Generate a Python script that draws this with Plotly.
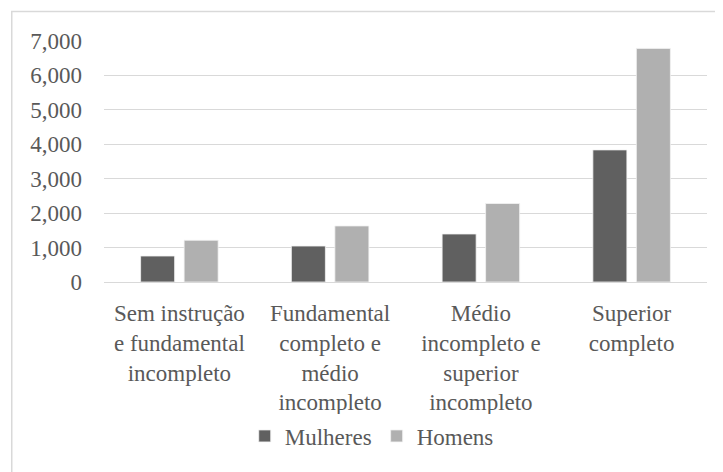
import plotly.graph_objects as go

categories = [
    "Sem instrução<br>e fundamental<br>incompleto",
    "Fundamental<br>completo e<br>médio<br>incompleto",
    "Médio<br>incompleto e<br>superior<br>incompleto",
    "Superior<br>completo",
]
mulheres = [755, 1045, 1395, 3837]
homens = [1212, 1628, 2280, 6785]
tick_vals = [0, 1000, 2000, 3000, 4000, 5000, 6000, 7000]
tick_text = ["0", "1,000", "2,000", "3,000", "4,000", "5,000", "6,000", "7,000"]

FONT = "Liberation Serif"
TXT = "#595959"

fig = go.Figure()
fig.add_trace(go.Bar(name="Mulheres", x=categories, y=mulheres,
                     marker=dict(color="#606060", line=dict(color="#f2f2f2", width=0.8))))
fig.add_trace(go.Bar(name="Homens", x=categories, y=homens,
                     marker=dict(color="#b0b0b0", line=dict(color="#f2f2f2", width=0.8))))

# page body adds an 8px offset, so the figure is sized to fill the rest of the window
fig.update_layout(
    width=715, height=464,
    margin=dict(l=96, r=16, t=33, b=190, autoexpand=False),
    paper_bgcolor="white", plot_bgcolor="white",
    barmode="group", bargap=0.423, bargroupgap=0.218,
    font=dict(family=FONT, size=23, color=TXT),
    showlegend=True,
    legend=dict(orientation="h", x=0.444, xanchor="center", y=-0.639, yanchor="middle",
                font=dict(family=FONT, size=23, color=TXT), itemwidth=30,
                tracegroupgap=0, traceorder="normal"),
    shapes=[dict(type="rect", xref="paper", yref="paper",
                 x0=-0.153, x1=1.03, y0=-0.80, y1=1.122,
                 line=dict(color="#d9d9d9", width=1.5), layer="below")],
)
fig.update_yaxes(range=[0, 7000], tickvals=tick_vals, ticktext=tick_text,
                 showgrid=True, gridcolor="#d9d9d9", gridwidth=1.3, automargin=False,
                 zeroline=False, showline=False, ticks="", ticklabelstandoff=21,
                 tickfont=dict(family=FONT, size=23, color=TXT))
fig.update_xaxes(showline=True, linecolor="#d9d9d9", linewidth=1.3, ticks="",
                 ticklabelstandoff=10, tickangle=0, automargin=False,
                 tickfont=dict(family=FONT, size=23, color=TXT))

fig.write_html("out.html")
